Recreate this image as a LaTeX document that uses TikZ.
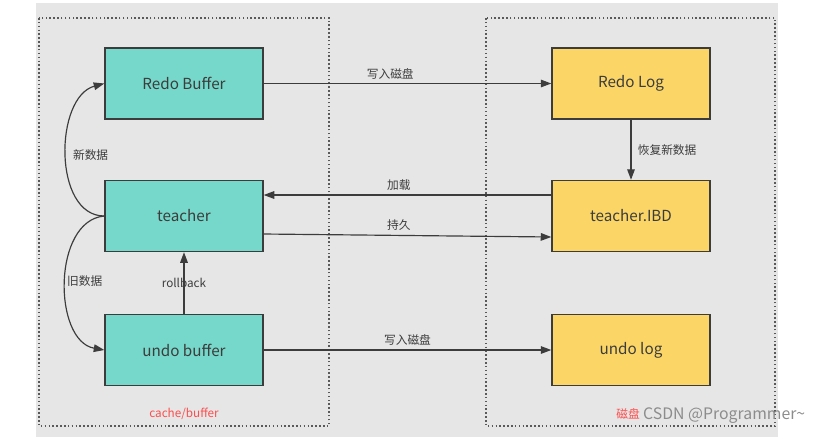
\documentclass[tikz,border=0pt]{standalone}
\usepackage{fontspec}
\setmainfont{Noto Sans CJK SC}
\usetikzlibrary{arrows.meta}
\definecolor{bggray}{HTML}{E6E6E6}
\definecolor{teal}{HTML}{76D8CA}
\definecolor{gold}{HTML}{FBD667}
\definecolor{ink}{HTML}{3C3C3C}
\definecolor{redtxt}{HTML}{FF4D4D}
\begin{document}
\begin{tikzpicture}[x=0.03cm, y=-0.03cm, >={Triangle[length=9pt,width=6.5pt]},
    every node/.style={text=ink},
    buf/.style={draw=ink, line width=1.2pt, fill=teal, minimum width=4.74cm, minimum height=2.13cm, font=\fontsize{13}{15}\selectfont},
    disk/.style={buf, fill=gold},
    lbl/.style={font=\fontsize{10}{12}\selectfont},
    zone/.style={draw=ink!85, line width=1.3pt, dotted},
    edge/.style={->, draw=ink, line width=1pt}]
    \useasboundingbox (0, 0) rectangle (819, 440);
    \fill[bggray] (36, 3) rectangle (778, 437);

    % Zones
    \draw[zone] (39, 18) rectangle (329, 426);
    \draw[zone] (486, 18) rectangle (775, 426);
    \node[lbl, text=redtxt] at (184, 414) (cachelbl) {cache/buffer};
    \node[lbl, text=redtxt] at (628, 414) (disklbl) {磁盘};

    % Nodes
    \node[buf] at (184, 83.5) (rbuf) {Redo Buffer};
    \node[buf] at (184, 216) (teacher) {teacher};
    \node[buf] at (184, 350) (ubuf) {undo buffer};
    \node[disk] at (631, 83.5) (rlog) {Redo Log};
    \node[disk] at (631, 216) (ibd) {teacher.IBD};
    \node[disk] at (631, 350) (ulog) {undo log};

    % Edges
    \draw[edge] (rbuf) -- (rlog)
        node[lbl, pos=0.44, above] {写入磁盘};
    \draw[edge] ([yshift=0.63cm]ibd.west) -- ([yshift=0.63cm]teacher.east)
        node[lbl, pos=0.53, above] {加载};
    \draw[edge] ([yshift=-0.54cm]teacher.east) -- ([yshift=-0.63cm]ibd.west)
        node[lbl, pos=0.47, above] {持久};
    \draw[edge] (rlog) -- (ibd)
        node[lbl, midway, right, xshift=2pt] {恢复新数据};
    \draw[edge] (ubuf) -- (ulog)
        node[lbl, midway, above] {写入磁盘};
    \draw[edge] (ubuf) -- (teacher)
        node[lbl, midway] {rollback};
    \draw[edge] (teacher.west) to[out=180, in=195]
        node[lbl, pos=0.5, right, xshift=2pt] {新数据} (rbuf.west);
    \draw[edge] (teacher.west) to[out=185, in=170]
        node[lbl, pos=0.5, right, inner sep=1pt] {旧数据} (ubuf.west);

    % Watermark
    \node[text=gray!90, font=\fontsize{13.5}{16}\selectfont, anchor=west, inner sep=0pt] at (643, 416) (mark) {CSDN @Programmer\textasciitilde};
\end{tikzpicture}
\end{document}
